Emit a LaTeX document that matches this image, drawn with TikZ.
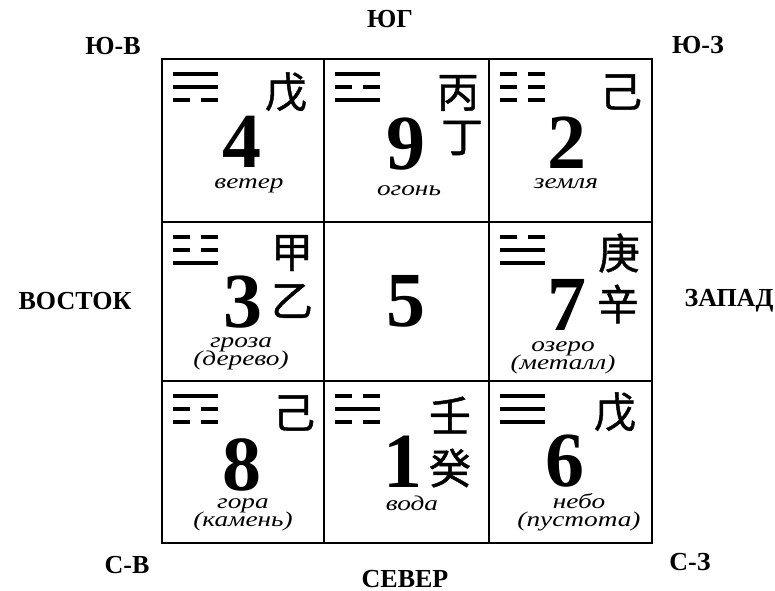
\documentclass[tikz,border=0pt]{standalone}
\usepackage{fontspec}
\setmainfont{Liberation Serif}
\newfontfamily\cjk[FakeBold=1]{Noto Sans CJK SC}
\newfontfamily\elemfam[FakeStretch=1.3]{Liberation Serif}
\usepackage{tikz}
\usetikzlibrary{positioning,calc}
\newcommand{\elemfont}{\elemfam\fontsize{10.5}{9}\selectfont\itshape\setlength{\lineskiplimit}{-20pt}}
\newcommand{\trigram}[4]{%
  \pic at ([shift={(11,15)}]#1) {#2};
  \pic at ([shift={(11,28)}]#1) {#3};
  \pic at ([shift={(11,41)}]#1) {#4};}

\begin{document}
\begin{tikzpicture}[
  x=0.5pt, y=-0.5pt,
  grid/.style={line width=1.3pt},
  gua/.style={line width=1.6pt},
  yang/.pic={\draw[gua] (0,0) -- (45,0);},
  yin/.pic={\draw[gua] (0,0) -- (17,0) (28,0) -- (45,0);},
  side/.style={font=\fontsize{13}{14}\selectfont\bfseries, inner sep=0pt},
  num/.style={font=\fontsize{39}{39}\selectfont\bfseries, inner sep=0pt},
  han/.style={font=\cjk\fontsize{21}{21}\selectfont, inner sep=0pt},
  elem/.style={font=\elemfont, align=center, inner sep=0pt, anchor=base}]
\useasboundingbox (0,0) rectangle (775,590);
\coordinate (c4) at (162,59);
\coordinate (c9) at (324,59);
\coordinate (c2) at (489,59);
\coordinate (c3) at (162,222);
\coordinate (c5) at (324,222);
\coordinate (c7) at (489,222);
\coordinate (c8) at (162,381);
\coordinate (c1) at (324,381);
\coordinate (c6) at (489,381);
\coordinate (se) at (652,543);
\draw[grid] (c4) rectangle (se);
\draw[grid] (c9) -- (c9 |- se);
\draw[grid] (c2) -- (c2 |- se);
\draw[grid] (c3) -- (c3 -| se);
\draw[grid] (c8) -- (c8 -| se);
% directions
\node[side] (south) at (390,19) {ЮГ};
\node[side] (se-lbl) at (113,46) {Ю-В};
\node[side] (sw-lbl) at (698,45) {Ю-З};
\node[side] (east) at (75,301) {ВОСТОК};
\node[side] (west) at (729,301) {ЗАПАД};
\node[side] (ne-lbl) at (127,565) {С-В};
\node[side] (north) at (405,579) {СЕВЕР};
\node[side] (nw-lbl) at (690,562) {С-З};
% top row
\trigram{c4}{yang}{yang}{yin}
\node[han] (h4) at ([shift={(124,33)}]c4) {戊};
\node[num] (n4) at ([shift={(80,83)}]c4) {4};
\node[elem] (e4) at ([shift={(87,129)}]c4) {ветер};
\trigram{c9}{yang}{yin}{yang}
\node[han] (h9a) at ([shift={(134,34)}]c9) {丙};
\node[han] (h9b) at ([shift={(138,79)}]c9) {丁};
\node[num] (n9) at ([shift={(82,85)}]c9) {9};
\node[elem] (e9) at ([shift={(85,136)}]c9) {огонь};
\trigram{c2}{yin}{yin}{yin}
\node[han] (h2) at ([shift={(132,33)}]c2) {己};
\node[num] (n2) at ([shift={(78,84)}]c2) {2};
\node[elem] (e2) at ([shift={(77,129)}]c2) {земля};
% middle row
\trigram{c3}{yin}{yin}{yang}
\node[han] (h3a) at ([shift={(130,31)}]c3) {甲};
\node[han] (h3b) at ([shift={(130,79)}]c3) {乙};
\node[num] (n3) at ([shift={(81,80)}]c3) {3};
\node[elem] (e3) at ([shift={(79,143)}]c3) {гроза\\(дерево)};
\node[num] (n5) at ([shift={(82,79)}]c5) {5};
\trigram{c7}{yin}{yang}{yang}
\node[han] (h7a) at ([shift={(130,31)}]c7) {庚};
\node[han] (h7b) at ([shift={(129,82)}]c7) {辛};
\node[num] (n7) at ([shift={(78,83)}]c7) {7};
\node[elem] (e7) at ([shift={(74,147)}]c7) {озеро\\(металл)};
% bottom row
\trigram{c8}{yang}{yin}{yin}
\node[han] (h8) at ([shift={(132,32)}]c8) {己};
\node[num] (n8) at ([shift={(80,84)}]c8) {8};
\node[elem] (e8) at ([shift={(81,145)}]c8) {гора\\(камень)};
\trigram{c1}{yin}{yang}{yin}
\node[han] (h1a) at ([shift={(126,34)}]c1) {壬};
\node[han] (h1b) at ([shift={(126,87)}]c1) {癸};
\node[num] (n1) at ([shift={(79,81)}]c1) {1};
\node[elem] (e1) at ([shift={(88,129)}]c1) {вода};
\trigram{c6}{yang}{yang}{yang}
\node[han] (h6) at ([shift={(126,31)}]c6) {戊};
\node[num] (n6) at ([shift={(76,80)}]c6) {6};
\node[elem] (e6) at ([shift={(90,145)}]c6) {небо\\(пустота)};
\end{tikzpicture}
\end{document}
